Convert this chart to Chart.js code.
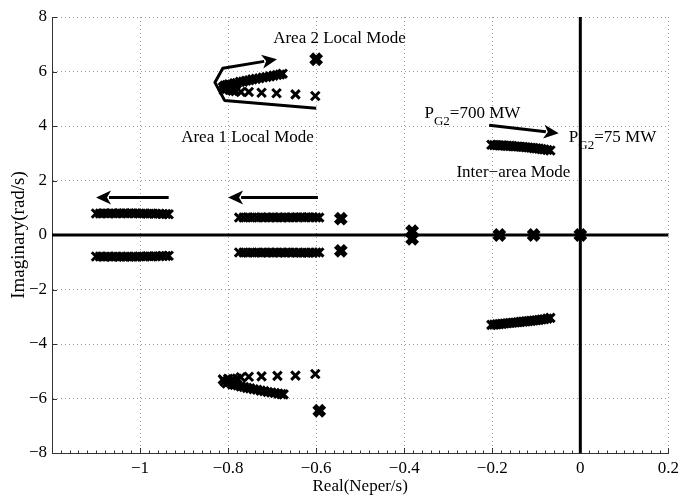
<!DOCTYPE html>
<html><head><meta charset="utf-8">
<script src="https://cdn.jsdelivr.net/npm/chart.js@4/dist/chart.umd.min.js"></script>
<style>html,body{margin:0;padding:0;background:#fff}</style>
</head><body>
<canvas id="c" width="684" height="495"></canvas>
<script>
// ---- axis ticks ----
const xTickValues = [-1.2, -1, -0.8, -0.6, -0.4, -0.2, 0, 0.2];
const yTickValues = [-8, -6, -4, -2, 0, 2, 4, 6, 8];

// ---- eigenvalue traces [real, imag] ----
const leftModeUpper = [[-1.100,0.79],[-1.091,0.79],[-1.082,0.80],[-1.073,0.79],[-1.064,0.80],[-1.055,0.79],[-1.046,0.80],[-1.037,0.80],[-1.028,0.79],[-1.019,0.80],[-1.010,0.80],[-1.001,0.79],[-0.992,0.79],[-0.983,0.78],[-0.974,0.79],[-0.965,0.78],[-0.956,0.78],[-0.948,0.77],[-0.941,0.77],[-0.935,0.76]];
const leftModeLower = [[-1.100,-0.79],[-1.091,-0.79],[-1.082,-0.80],[-1.073,-0.79],[-1.064,-0.80],[-1.055,-0.79],[-1.046,-0.80],[-1.037,-0.80],[-1.028,-0.79],[-1.019,-0.80],[-1.010,-0.80],[-1.001,-0.79],[-0.992,-0.79],[-0.983,-0.78],[-0.974,-0.79],[-0.965,-0.78],[-0.956,-0.78],[-0.948,-0.77],[-0.941,-0.77],[-0.935,-0.76]];
const midModeUpper = [[-0.775,0.64],[-0.765,0.64],[-0.755,0.65],[-0.745,0.64],[-0.735,0.64],[-0.725,0.65],[-0.716,0.64],[-0.707,0.64],[-0.698,0.65],[-0.689,0.64],[-0.680,0.64],[-0.671,0.65],[-0.662,0.64],[-0.653,0.64],[-0.644,0.65],[-0.635,0.65],[-0.626,0.64],[-0.617,0.65],[-0.608,0.65],[-0.600,0.64],[-0.593,0.64]];
const midModeLower = [[-0.775,-0.64],[-0.765,-0.64],[-0.755,-0.65],[-0.745,-0.64],[-0.735,-0.64],[-0.725,-0.65],[-0.716,-0.64],[-0.707,-0.64],[-0.698,-0.65],[-0.689,-0.64],[-0.680,-0.64],[-0.671,-0.65],[-0.662,-0.64],[-0.653,-0.64],[-0.644,-0.65],[-0.635,-0.65],[-0.626,-0.64],[-0.617,-0.65],[-0.608,-0.65],[-0.600,-0.64],[-0.593,-0.64]];
const area2Upper = [[-0.812,5.42],[-0.808,5.48],[-0.803,5.50],[-0.798,5.53],[-0.792,5.52],[-0.786,5.57],[-0.780,5.58],[-0.773,5.62],[-0.766,5.63],[-0.759,5.66],[-0.752,5.68],[-0.745,5.71],[-0.737,5.73],[-0.729,5.75],[-0.721,5.78],[-0.713,5.80],[-0.705,5.82],[-0.697,5.85],[-0.689,5.87],[-0.682,5.89],[-0.676,5.92],[-0.810,5.32],[-0.804,5.36],[-0.797,5.34],[-0.790,5.30],[-0.783,5.28]];
const area1Upper = [[-0.771,5.25],[-0.753,5.25],[-0.724,5.22],[-0.690,5.20],[-0.647,5.16],[-0.602,5.10]];
const area2Lower = [[-0.812,-5.30],[-0.808,-5.38],[-0.803,-5.45],[-0.797,-5.40],[-0.791,-5.48],[-0.785,-5.50],[-0.778,-5.52],[-0.771,-5.56],[-0.764,-5.58],[-0.757,-5.61],[-0.750,-5.63],[-0.742,-5.66],[-0.734,-5.68],[-0.726,-5.71],[-0.718,-5.73],[-0.710,-5.76],[-0.702,-5.78],[-0.694,-5.80],[-0.686,-5.82],[-0.679,-5.84],[-0.674,-5.85],[-0.800,-5.28],[-0.790,-5.30],[-0.780,-5.27]];
const area1Lower = [[-0.771,-5.22],[-0.753,-5.20],[-0.724,-5.19],[-0.688,-5.17],[-0.647,-5.16],[-0.602,-5.10]];
const interAreaUpper = [[-0.202,3.31],[-0.196,3.30],[-0.190,3.30],[-0.184,3.29],[-0.178,3.29],[-0.172,3.28],[-0.166,3.27],[-0.160,3.27],[-0.154,3.26],[-0.148,3.25],[-0.142,3.25],[-0.136,3.24],[-0.130,3.23],[-0.124,3.22],[-0.118,3.21],[-0.112,3.20],[-0.106,3.19],[-0.100,3.18],[-0.094,3.17],[-0.088,3.15],[-0.082,3.14],[-0.075,3.12],[-0.068,3.10]];
const interAreaLower = [[-0.202,-3.30],[-0.196,-3.29],[-0.190,-3.28],[-0.184,-3.27],[-0.178,-3.26],[-0.172,-3.25],[-0.166,-3.24],[-0.160,-3.23],[-0.154,-3.22],[-0.148,-3.21],[-0.142,-3.20],[-0.136,-3.19],[-0.130,-3.18],[-0.124,-3.17],[-0.118,-3.16],[-0.112,-3.15],[-0.106,-3.14],[-0.100,-3.13],[-0.094,-3.12],[-0.088,-3.10],[-0.082,-3.09],[-0.075,-3.07],[-0.068,-3.04]];
const fixedPoles = [[-0.600,6.45],[-0.593,-6.45],[-0.544,0.60],[-0.544,-0.58],[-0.382,0.14],[-0.382,-0.14],[-0.184,0],[-0.106,0],[0,0]];

// ---- annotations (data coordinates) ----
const arrowPaths = [
  [[-0.935,1.38],[-1.100,1.38]],
  [[-0.596,1.38],[-0.800,1.38]],
  [[-0.600,4.65],[-0.808,4.94],[-0.830,5.60],[-0.812,6.12],[-0.689,6.45]],
  [[-0.207,4.03],[-0.049,3.73]]
];
const textLabels = [
  {text:'Area 2 Local Mode', x:-0.547, y:7.22, align:'center'},
  {text:'Area 1 Local Mode', x:-0.756, y:3.58, align:'center'},
  {text:'Inter\u2212area Mode', x:-0.152, y:2.30, align:'center'}
];
const subLabels = [
  {main:'P', sub:'G2', rest:'=700 MW', x:-0.354, y:4.47},
  {main:'P', sub:'G2', rest:'=75 MW', x:-0.026, y:3.58}
];

const FONT = '"Liberation Serif", "Times New Roman", serif';
const toXY = arr => arr.map(p => ({x:p[0], y:p[1]}));
const fmt = v => { const n = Number(v.toFixed(1)); return n < 0 ? '\u2212' + String(-n) : String(n); };

function ds(arr, r, bw) {
  return {data: toXY(arr), pointStyle:'crossRot', pointRadius:r, pointHoverRadius:r,
    borderColor:'#000', backgroundColor:'#000', pointBorderWidth:bw, showLine:false};
}

const decor = {
  id:'decor',
  beforeDatasetsDraw(chart) {
    const {ctx, chartArea:a, scales:{x, y}} = chart;
    ctx.save();
    ctx.strokeStyle = '#333'; ctx.lineWidth = 1;
    ctx.beginPath();
    xTickValues.forEach(v => { const px = Math.round(x.getPixelForValue(v)) + 0.5; ctx.moveTo(px, a.bottom); ctx.lineTo(px, a.bottom - 5); });
    yTickValues.forEach(v => { const py = Math.round(y.getPixelForValue(v)) + 0.5; ctx.moveTo(a.left, py); ctx.lineTo(a.left + 5, py); });
    ctx.stroke();
    ctx.beginPath();
    for (let i = 0; i <= 70; i++) { const v = -1.2 + i * 0.02; const px = Math.round(x.getPixelForValue(v)) + 0.5; ctx.moveTo(px, a.bottom); ctx.lineTo(px, a.bottom - 2.5); }
    ctx.stroke();
    ctx.strokeStyle = '#000'; ctx.lineWidth = 3;
    ctx.beginPath();
    const y0 = y.getPixelForValue(0), x0 = x.getPixelForValue(0);
    ctx.moveTo(a.left, y0); ctx.lineTo(a.right, y0);
    ctx.moveTo(x0, a.top); ctx.lineTo(x0, a.bottom);
    ctx.stroke();
    ctx.restore();
  },
  afterDatasetsDraw(chart) {
    const {ctx, scales:{x, y}} = chart;
    ctx.save();
    ctx.strokeStyle = '#000'; ctx.fillStyle = '#000'; ctx.lineWidth = 3; ctx.lineJoin = 'round';
    arrowPaths.forEach(path => {
      const pts = path.map(p => [x.getPixelForValue(p[0]), y.getPixelForValue(p[1])]);
      const n = pts.length;
      const [ex, ey] = pts[n-1], [sx, sy] = pts[n-2];
      const ang = Math.atan2(ey - sy, ex - sx);
      const hl = 15, hw = 7;
      const bx = ex - Math.cos(ang) * (hl - 2), by = ey - Math.sin(ang) * (hl - 2);
      ctx.beginPath();
      ctx.moveTo(pts[0][0], pts[0][1]);
      for (let i = 1; i < n - 1; i++) ctx.lineTo(pts[i][0], pts[i][1]);
      ctx.lineTo(bx, by);
      ctx.stroke();
      ctx.beginPath();
      ctx.moveTo(ex, ey);
      ctx.lineTo(ex - Math.cos(ang) * hl - Math.sin(ang) * hw, ey - Math.sin(ang) * hl + Math.cos(ang) * hw);
      ctx.lineTo(ex - Math.cos(ang) * (hl - 4), ey - Math.sin(ang) * (hl - 4));
      ctx.lineTo(ex - Math.cos(ang) * hl + Math.sin(ang) * hw, ey - Math.sin(ang) * hl - Math.cos(ang) * hw);
      ctx.closePath();
      ctx.fill();
    });
    ctx.textBaseline = 'middle';
    ctx.font = '17px ' + FONT;
    textLabels.forEach(t => { ctx.textAlign = t.align; ctx.fillText(t.text, x.getPixelForValue(t.x), y.getPixelForValue(t.y)); });
    ctx.textAlign = 'left';
    subLabels.forEach(t => {
      let px = x.getPixelForValue(t.x); const py = y.getPixelForValue(t.y);
      ctx.font = '17px ' + FONT; ctx.fillText(t.main, px, py); px += ctx.measureText(t.main).width;
      ctx.font = '13px ' + FONT; ctx.fillText(t.sub, px, py + 8); px += ctx.measureText(t.sub).width;
      ctx.font = '17px ' + FONT; ctx.fillText(t.rest, px, py);
    });
    ctx.restore();
  }
};

new Chart(document.getElementById('c'), {
  type:'scatter',
  data:{datasets:[
    ds(leftModeUpper,6,3), ds(leftModeLower,6,3),
    ds(midModeUpper,6,3), ds(midModeLower,6,3),
    ds(area2Upper,6,3), ds(area1Upper,6,3),
    ds(area2Lower,6,3), ds(area1Lower,6,3),
    ds(interAreaUpper,6,3), ds(interAreaLower,6,3),
    ds(fixedPoles,7,5.5)
  ]},
  options:{
    responsive:false, animation:false, devicePixelRatio:1,
    layout:{padding:{top:17, right:10, left:0, bottom:0}},
    plugins:{legend:{display:false}, tooltip:{enabled:false}},
    scales:{
      x:{type:'linear', min:-1.2, max:0.2,
        afterBuildTicks: s => { s.ticks = xTickValues.map(v => ({value:v})); },
        afterFit: s => { s.height = 42; },
        ticks:{color:'#000', padding:5, font:{family:FONT, size:17}, maxRotation:0, autoSkip:false,
          callback: v => (Math.abs(v + 1.2) < 1e-9 ? '' : fmt(v))},
        grid:{color:'#9a9a9a', lineWidth:1, drawTicks:false},
        border:{display:true, color:'#333', width:1, dash:[1,3]},
        title:{display:true, text:'Real(Neper/s)', color:'#000', font:{family:FONT, size:17, lineHeight:1}, padding:{top:0,bottom:0}}
      },
      y:{type:'linear', min:-8, max:8,
        afterBuildTicks: s => { s.ticks = yTickValues.map(v => ({value:v})); },
        afterFit: s => { s.width = 52; },
        ticks:{color:'#000', padding:5, font:{family:FONT, size:17}, autoSkip:false, callback: v => fmt(v)},
        grid:{color:'#9a9a9a', lineWidth:1, drawTicks:false},
        border:{display:true, color:'#333', width:1, dash:[1,3]},
        title:{display:true, text:'Imaginary(rad/s)', color:'#000', font:{family:FONT, size:19, lineHeight:1.2}, padding:{top:8,bottom:0}}
      }
    }
  },
  plugins:[decor]
});
</script>
</body></html>
